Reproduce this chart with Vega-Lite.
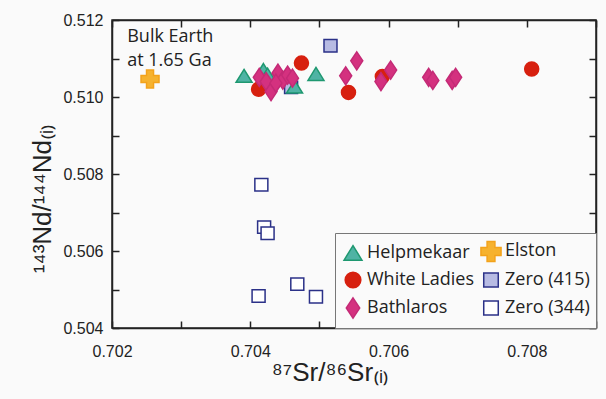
{
  "$schema": "https://vega.github.io/schema/vega-lite/v6.json",
  "width": 484,
  "height": 308,
  "autosize": {"type": "none"},
  "padding": {"left": 112, "top": 20, "right": 10, "bottom": 71},
  "background": "#fafafa",
  "config": {
    "view": {"stroke": "#222", "strokeWidth": 1.5},
    "axis": {
      "domainColor": "#222", "domainWidth": 1.5, "tickColor": "#222", "tickWidth": 1.5,
      "tickSize": -7, "grid": false, "labelFont": "Liberation Sans", "labelFontSize": 16,
      "labelColor": "#222", "titleFont": "Liberation Sans", "titleFontWeight": "normal",
      "titleColor": "#222", "titleFontSize": 26, "labelOverlap": false, "labelFlush": false, "labelBound": false
    },
    "legend": {
      "strokeColor": "#777", "fillColor": "#fafafa",
      "padding": 6, "labelFont": "Open Sans", "labelFontSize": 18, "labelColor": "#222",
      "symbolSize": 500, "symbolStrokeWidth": 1.5, "rowPadding": 3, "columnPadding": 2, "labelOffset": 2
    }
  },
  "layer": [
    {
      "data": {"values": [
        {"sr": 0.70459, "nd": 0.51025, "group": "Zero (415)"},
        {"sr": 0.70516, "nd": 0.51133, "group": "Zero (415)"},
        {"sr": 0.70416, "nd": 0.50772, "group": "Zero (344)"},
        {"sr": 0.70420, "nd": 0.50662, "group": "Zero (344)"},
        {"sr": 0.70425, "nd": 0.50646, "group": "Zero (344)"},
        {"sr": 0.70468, "nd": 0.50514, "group": "Zero (344)"},
        {"sr": 0.70412, "nd": 0.50483, "group": "Zero (344)"},
        {"sr": 0.70495, "nd": 0.50481, "group": "Zero (344)"},
        {"sr": 0.70255, "nd": 0.51047, "group": "Elston"},
        {"sr": 0.70412, "nd": 0.51020, "group": "White Ladies"},
        {"sr": 0.70474, "nd": 0.51088, "group": "White Ladies"},
        {"sr": 0.70542, "nd": 0.51012, "group": "White Ladies"},
        {"sr": 0.70591, "nd": 0.51053, "group": "White Ladies"},
        {"sr": 0.70807, "nd": 0.51073, "group": "White Ladies"},
        {"sr": 0.70391, "nd": 0.51055, "group": "Helpmekaar"},
        {"sr": 0.70419, "nd": 0.51070, "group": "Helpmekaar"},
        {"sr": 0.70425, "nd": 0.51058, "group": "Helpmekaar"},
        {"sr": 0.70464, "nd": 0.51027, "group": "Helpmekaar"},
        {"sr": 0.70495, "nd": 0.51060, "group": "Helpmekaar"},
        {"sr": 0.70413, "nd": 0.51051, "group": "Bathlaros"},
        {"sr": 0.70423, "nd": 0.51040, "group": "Bathlaros"},
        {"sr": 0.70430, "nd": 0.51014, "group": "Bathlaros"},
        {"sr": 0.70440, "nd": 0.51062, "group": "Bathlaros"},
        {"sr": 0.70447, "nd": 0.51044, "group": "Bathlaros"},
        {"sr": 0.70437, "nd": 0.51036, "group": "Bathlaros"},
        {"sr": 0.70454, "nd": 0.51057, "group": "Bathlaros"},
        {"sr": 0.70461, "nd": 0.51049, "group": "Bathlaros"},
        {"sr": 0.70538, "nd": 0.51055, "group": "Bathlaros"},
        {"sr": 0.70554, "nd": 0.51094, "group": "Bathlaros"},
        {"sr": 0.70589, "nd": 0.51040, "group": "Bathlaros"},
        {"sr": 0.70603, "nd": 0.51070, "group": "Bathlaros"},
        {"sr": 0.70658, "nd": 0.51051, "group": "Bathlaros"},
        {"sr": 0.70664, "nd": 0.51043, "group": "Bathlaros"},
        {"sr": 0.70692, "nd": 0.51043, "group": "Bathlaros"},
        {"sr": 0.70697, "nd": 0.51051, "group": "Bathlaros"}
      ]},
      "mark": {"type": "point", "filled": true, "opacity": 1, "fillOpacity": 1, "strokeWidth": 1.5, "size": 400},
      "encoding": {
        "x": {"field": "sr", "type": "quantitative",
          "scale": {"domain": [0.702, 0.709], "nice": false, "zero": false},
          "axis": {"orient": "bottom", "values": [0.702, 0.703, 0.704, 0.705, 0.706, 0.707, 0.708, 0.709],
            "labelExpr": "round(datum.value*1000) % 2 == 0 ? format(datum.value, '.3f') : ''",
            "title": "⁸⁷Sr/⁸⁶Sr₍ᵢ₎", "labelPadding": 22, "titlePadding": 0, "titleX": 218}},
        "y": {"field": "nd", "type": "quantitative",
          "scale": {"domain": [0.504, 0.512], "nice": false, "zero": false},
          "axis": {"orient": "left", "values": [0.504, 0.505, 0.506, 0.507, 0.508, 0.509, 0.510, 0.511, 0.512],
            "labelExpr": "round(datum.value*1000) % 2 == 0 ? format(datum.value, '.3f') : ''",
            "title": "¹⁴³Nd/¹⁴⁴Nd₍ᵢ₎", "labelPadding": 16, "titlePadding": 7, "titleY": 178}},
        "shape": {"field": "group", "type": "nominal",
          "scale": {"domain": ["Helpmekaar", "White Ladies", "Bathlaros", "Elston", "Zero (415)", "Zero (344)"],
            "range": [
              "M0,-0.65L0.8,0.65L-0.8,0.65Z",
              "M0.7,0A0.7,0.7 0 1,1 -0.7,0A0.7,0.7 0 1,1 0.7,0Z",
              "M0,-0.9L0.6,0L0,0.9L-0.6,0Z",
              "M-0.9,-0.35H-0.35V-0.9H0.35V-0.35H0.9V0.35H0.35V0.9H-0.35V0.35H-0.9Z",
              "M-0.65,-0.62H0.65V0.62H-0.65Z",
              "M-0.65,-0.62H0.65V0.62H-0.65Z"]},
          "legend": {"title": null, "orient": "bottom-right", "columns": 2, "offset": 0}},
        "color": {"field": "group", "type": "nominal",
          "scale": {"domain": ["Helpmekaar", "White Ladies", "Bathlaros", "Elston", "Zero (415)", "Zero (344)"],
            "range": ["#4fb3a4", "#d7200f", "#d4317f", "#f6b22e", "#b7bbe3", "#ffffff"]},
          "legend": {"title": null, "orient": "bottom-right", "columns": 2, "offset": 0}},
        "stroke": {"field": "group", "type": "nominal",
          "scale": {"domain": ["Helpmekaar", "White Ladies", "Bathlaros", "Elston", "Zero (415)", "Zero (344)"],
            "range": ["#1e9870", "#d7200f", "#c42a76", "#f3a21b", "#2b3188", "#2b3188"]},
          "legend": {"title": null, "orient": "bottom-right", "columns": 2, "offset": 0}}
      }
    },
    {
      "data": {"values": [{"sr": 0.70222, "nd": 0.51143, "label": "Bulk Earth\nat 1.65 Ga"}]},
      "mark": {"type": "text", "align": "left", "baseline": "alphabetic", "font": "Open Sans", "fontSize": 18, "lineHeight": 24, "lineBreak": "\n", "color": "#222"},
      "encoding": {
        "x": {"field": "sr", "type": "quantitative", "axis": {"orient": "top", "values": [0.702, 0.703, 0.704, 0.705, 0.706, 0.707, 0.708, 0.709], "labels": false, "title": null}},
        "y": {"field": "nd", "type": "quantitative", "axis": {"orient": "right", "values": [0.504, 0.505, 0.506, 0.507, 0.508, 0.509, 0.510, 0.511, 0.512], "labels": false, "title": null}},
        "text": {"field": "label"}
      }
    }
  ],
  "resolve": {"axis": {"x": "independent", "y": "independent"}}
}
